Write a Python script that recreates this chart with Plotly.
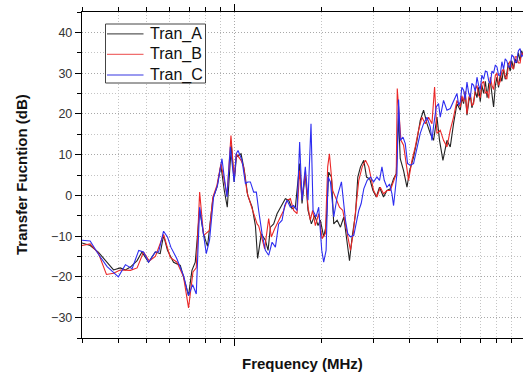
import math
import plotly.graph_objects as go

# ---------------- data ----------------
freq_A = [30.0, 32.0, 34.2, 36.6, 38.5, 40.6, 42.3, 44.0, 46.4, 48.2,
          50.8, 53.6, 55.7, 57.2, 59.0, 61.9, 65.3, 68.0, 69.7, 71.6,
          73.5, 76.1, 78.5, 81.0, 84.5, 87.3, 90.0, 92.5, 94.7, 97.8,
          100.0, 101.8, 105.6, 108.4, 111.3, 115.3, 118.3, 120.4, 123.0, 124.0,
          128.0, 130.8, 133.2, 136.7, 140.4, 144.1, 149.9, 153.9, 158.1, 162.3,
          167.9, 171.1, 175.6, 179.4, 184.2, 189.1, 194.2, 197.8, 203.1, 207.0,
          211.3, 215.9, 219.9, 225.9, 231.9, 238.1, 244.6, 249.1, 254.4, 261.2,
          266.0, 271.7, 278.9, 285.0, 292.5, 300.0, 307.9, 315.9, 326.1, 335.0,
          343.9, 353.0, 360.6, 367.3, 372.2, 382.1, 392.5, 400.7, 413.5, 424.8,
          436.0, 447.6, 459.9, 472.0, 484.4, 497.6, 507.9, 521.7, 538.6, 552.8,
          567.5, 583, 598.6, 606, 614.4, 622, 631, 640, 648, 656,
          665, 674, 683, 692, 701, 710, 720, 730, 740, 750,
          759, 769, 779, 790, 800, 810, 821, 832, 843, 854,
          865, 876, 888, 900, 912, 924, 936, 948, 961, 972,
          984]
tran_A = [-11.7, -12.3, -14.0, -16.4, -18.3, -17.8, -18.3, -17.6, -16.0, -13.9,
          -16.4, -13.9, -14.3, -9.8, -13.5, -16.4, -17.2, -21.7, -24.6, -18.4,
          -16.4, -3.5, -9.5, -12.5, -0.8, 2.0, 7.4, 1.2, -2.9, 12.3,
          3.3, 9.4, 10.2, 6.1, 0.0, -2.9, -7.4, -15.5, -10.6, -9.4,
          -11.0, -13.5, -7.8, -7.0, -4.5, -2.9, -0.8, -1.2, -3.3, -2.9,
          7.8, -2.0, 5.3, -3.7, -7.0, -4.9, -7.4, -6.1, -10.2, -7.4,
          5.7, 4.5, -7.0, -6.1, -7.8, -5.3, -11.9, -16.0, -10.2, -4.5,
          4.5, 7.0, 8.6, 4.5, 4.0, 1.2, -0.4, 2.0, -0.4, 1.2,
          1.6, 4.1, 5.3, 19.2, 9.0, 6.1, 2.0, 6.0, 9.4, 13.5,
          18.4, 20.9, 17.6, 15.2, 13.5, 19.2, 13.5, 8.6, 13.5, 11.9,
          17.6, 22.5, 20.9, 24.0, 22.5, 25.5, 19.7, 23.0, 24.5, 21.5,
          23.0, 25.5, 24.0, 26.5, 23.0, 27.0, 25.0, 28.0, 24.0, 27.5,
          28.0, 25.0, 21.7, 27.0, 29.0, 26.5, 29.5, 28.0, 31.0, 28.5,
          30.0, 32.5, 30.5, 33.0, 31.0, 33.5, 32.5, 35.0, 33.0, 35.5,
          34.5]

freq_B = [30.0, 32.0, 34.2, 36.4, 38.5, 40.6, 44.0, 46.4, 48.8, 51.1,
          53.6, 57.2, 60.3, 63.6, 67.0, 69.7, 72.2, 74.1, 76.1, 78.5,
          82.3, 84.5, 87.3, 90.1, 92.0, 94.5, 97.5, 100.0, 101.8, 105.6,
          107.8, 110.7, 115.3, 119.9, 121.4, 124.7, 127.3, 131.4, 134.2, 137.8,
          142.2, 147.9, 152.0, 156.0, 160.1, 164.5, 167.9, 171.1, 175.6, 179.4,
          182.7, 186.1, 190.1, 195.2, 200.5, 205.8, 209.6, 212.5, 218.1, 222.8,
          230.1, 236.2, 241.3, 243.2, 247.7, 251.0, 256.5, 261.2, 268.1, 275.4,
          282.7, 290.2, 295.8, 301.4, 309.5, 317.7, 326.1, 335.0, 343.9, 353.0,
          360.6, 363.5, 374.3, 382.1, 390.3, 397.5, 408.3, 419.1, 430.2, 442.0,
          453.7, 465.7, 478.3, 488.3, 497.6, 510.8, 524.2, 538.6, 552.8, 567.5,
          583, 598.6, 606, 614.4, 622, 631, 640, 648, 656, 665,
          674, 683, 692, 701, 710, 720, 730, 740, 750, 759,
          769, 779, 790, 800, 810, 821, 832, 843, 854, 865,
          876, 888, 900, 912, 924, 936, 948, 961, 972, 984]
tran_B = [-12.3, -11.9, -14.3, -19.4, -19.1, -18.3, -18.4, -17.8, -13.9, -16.1,
          -15.0, -9.6, -15.2, -16.4, -20.0, -27.6, -18.8, -17.8, 0.8, -9.8,
          -8.6, -0.4, 2.5, 7.8, 4.5, 0.0, 14.7, 4.1, 10.2, 8.6,
          7.0, 0.8, -3.3, -7.0, -7.5, -11.0, -13.1, -5.7, -10.2, -8.2,
          -6.1, -3.7, -1.2, -0.8, -3.7, -4.5, 6.1, -0.8, 5.7, -2.9,
          -6.1, -3.7, -7.4, -4.5, -10.6, -9.4, 7.0, 10.2, 1.2, -0.4,
          -2.9, -3.7, -7.0, -8.6, -11.0, -13.5, -9.4, -4.5, 3.7, 7.0,
          8.6, 7.0, 3.7, 1.2, -0.4, 2.0, 0.4, 1.2, 1.2, 3.7,
          5.3, 26.2, 13.5, 12.3, 7.0, 3.7, 8.6, 11.9, 16.0, 19.2,
          17.6, 19.2, 17.6, 26.6, 15.2, 16.0, 13.5, 11.9, 16.0, 19.2,
          23.3, 21.7, 24.5, 23.0, 25.5, 20.0, 24.0, 25.0, 22.0, 22.5,
          26.0, 27.0, 24.5, 24.0, 27.5, 28.0, 25.0, 25.5, 23.8, 29.0,
          27.0, 26.0, 29.5, 30.0, 27.0, 28.0, 30.5, 31.0, 29.0, 28.5,
          32.0, 33.0, 31.5, 31.0, 34.0, 34.0, 32.5, 32.5, 35.0, 34.5]

freq_C = [30.0, 32.0, 34.2, 36.6, 40.0, 42.3, 44.6, 47.0, 48.8, 50.8,
          53.6, 55.0, 57.2, 59.0, 60.6, 63.6, 67.0, 69.7, 72.0, 74.1,
          76.1, 80.2, 82.3, 85.0, 87.7, 90.8, 92.6, 94.5, 97.0, 100.0,
          101.6, 103.1, 106.4, 109.3, 111.3, 113.7, 116.7, 119.2, 121.4, 124.7,
          128.0, 131.4, 135.0, 138.6, 142.2, 146.1, 149.1, 152.0, 156.0, 160.1,
          164.5, 167.9, 171.1, 175.6, 179.4, 183.7, 186.7, 191.2, 195.2, 200.0,
          203.1, 207.0, 210.3, 214.2, 219.9, 225.9, 233.7, 236.9, 241.3, 245.7,
          251.0, 257.7, 263.3, 268.1, 273.2, 278.9, 286.5, 294.2, 301.4, 309.5,
          315.9, 322.0, 327.9, 335.0, 342.0, 348.6, 353.0, 357.8, 362.6, 367.3,
          372.2, 380.3, 387.3, 394.4, 402.9, 413.5, 424.8, 436.0, 447.6, 459.9,
          472.0, 478.3, 484.4, 494.9, 503.9, 510.8, 524.2, 538.6, 552.8, 567.5,
          583, 591, 598.6, 606, 614.4, 622, 631, 640, 648, 656,
          665, 674, 683, 692, 701, 710, 720, 730, 740, 750,
          759, 769, 779, 790, 800, 810, 821, 832, 843, 854,
          865, 876, 888, 900, 912, 924, 936, 948, 961, 972,
          984]
tran_C = [-11.0, -11.2, -14.5, -17.5, -20.0, -17.0, -18.0, -13.5, -13.9, -16.4,
          -13.9, -13.9, -8.8, -10.2, -12.7, -15.6, -19.7, -24.6, -21.9, -24.2,
          -2.9, -14.3, -11.0, -0.4, 2.5, 9.0, 4.1, -0.4, 11.9, 3.3,
          10.2, 11.0, 8.6, 2.9, 3.3, 3.3, 0.8, 0.8, -3.7, -9.4,
          -13.5, -14.7, -11.5, -12.7, -7.0, -6.1, -2.5, -1.2, -2.9, -2.5,
          -3.7, 13.1, -1.2, 7.0, -1.2, 17.6, -3.7, -5.3, -2.9, -13.5,
          -16.4, -13.5, 4.5, 3.3, -5.3, -0.4, 3.3, -0.4, -6.1, -9.4,
          -10.2, -9.8, -6.1, -3.7, -2.0, 1.6, 3.7, 4.5, 3.3, 4.5,
          3.7, 7.0, 3.7, 2.0, 2.8, 0.4, -2.5, 1.2, 5.3, 23.5,
          13.5, 14.3, 12.7, 7.8, 7.4, 7.8, 11.9, 15.2, 17.6, 19.2,
          16.8, 13.5, 17.0, 21.7, 22.5, 19.2, 23.3, 20.9, 21.3, 23.3,
          25.0, 22.1, 23.0, 26.5, 25.8, 23.5, 27.8, 25.0, 24.0, 27.5,
          27.0, 25.5, 29.0, 27.0, 26.0, 29.5, 28.5, 30.5, 30.3, 28.0,
          27.5, 30.5, 30.0, 32.0, 31.5, 29.5, 29.5, 32.8, 31.0, 33.5,
          33.0, 31.5, 31.5, 34.5, 34.0, 32.5, 33.0, 35.5, 36.0, 34.0,
          34.5]

series_names = ["Tran_A", "Tran_B", "Tran_C"]
y_ticks = [-30, -20, -10, 0, 10, 20, 30, 40]
x_major = [100, 1000]
x_minor = [30, 40, 50, 60, 70, 80, 90, 200, 300, 400, 500, 600, 700, 800, 900]

# ---------------- figure ----------------
FONT = "Arial, Liberation Sans, sans-serif"
colors = ["rgb(35,35,35)", "rgb(235,40,40)", "rgb(45,45,240)"]
legend_colors = ["rgb(90,90,90)", "rgb(240,110,110)", "rgb(120,120,235)"]

W, H = 523, 376
ML, MR, MT, MB = 82, 0, 12, 38
PW, PH = W - ML - MR, H - MT - MB


def px(x):
    return (x - ML) / PW


def py(y):
    return (H - MB - y) / PH


fig = go.Figure()
for name, fx, fy, c in zip(series_names, [freq_A, freq_B, freq_C],
                           [tran_A, tran_B, tran_C], colors):
    fig.add_trace(go.Scatter(x=fx, y=fy, mode="lines", name=name,
                             line=dict(color=c, width=1.1), showlegend=False))

major_grid = dict(showgrid=True, gridcolor="#a8a8a8", gridwidth=1, griddash="1px,2px")
minor_grid = dict(showgrid=True, gridcolor="#c4c4c4", gridwidth=1, griddash="1px,2px")

fig.update_layout(
    width=W, height=H,
    margin=dict(l=ML, r=MR, t=MT, b=MB),
    paper_bgcolor="white", plot_bgcolor="white",
    font=dict(family=FONT, color="#222"),
    showlegend=False,
    xaxis=dict(type="log", range=[math.log10(30), math.log10(30) + PW / 291],
               tickmode="array", tickvals=x_major, showticklabels=False,
               ticks="outside", ticklen=7, tickwidth=1.3, tickcolor="black",
               showline=True, linecolor="black", linewidth=1.4, mirror="ticks",
               zeroline=False,
               minor=dict(tickmode="array", tickvals=x_minor, ticks="outside",
                          ticklen=4, tickwidth=1, tickcolor="black", **minor_grid),
               **major_grid),
    yaxis=dict(range=[-35, 45], tickmode="array", tickvals=y_ticks,
               ticks="outside", ticklen=6, tickwidth=1.3, tickcolor="black",
               showline=True, linecolor="black", linewidth=1.4, mirror=False,
               zeroline=False,
               tickfont=dict(size=12.5, color="#333", family=FONT),
               minor=dict(dtick=5, tick0=0, ticks="outside", ticklen=3.5,
                          tickwidth=1, tickcolor="black", **minor_grid),
               **major_grid),
)

# legend box (drawn as a framed key)
fig.add_shape(type="rect", xref="paper", yref="paper",
              x0=px(105.5), x1=px(205.5), y0=py(83), y1=py(24),
              line=dict(color="#444", width=1), fillcolor="white", layer="above")
for i, (name, c) in enumerate(zip(series_names, legend_colors)):
    yc = 33.8 + i * 20.6
    fig.add_shape(type="line", xref="paper", yref="paper",
                  x0=px(107), x1=px(143.5), y0=py(yc), y1=py(yc),
                  line=dict(color=c, width=1.3), layer="above")
    fig.add_annotation(text=name, xref="paper", yref="paper",
                       x=px(147.5), y=py(yc), xanchor="left", yanchor="middle",
                       showarrow=False,
                       font=dict(size=16, color="#111", family=FONT))

fig.add_annotation(text="<b>Frequency (MHz)</b>", xref="paper", yref="paper",
                   x=0.5, y=py(363), xanchor="center", yanchor="middle",
                   showarrow=False, font=dict(size=15, color="#111", family=FONT))
fig.add_annotation(text="<b>Transfer Fucntion (dB)</b>", xref="paper", yref="paper",
                   x=px(21), y=0.5, xanchor="center", yanchor="middle",
                   textangle=-90, showarrow=False,
                   font=dict(size=15, color="#111", family=FONT))

fig.write_html("out.html")
